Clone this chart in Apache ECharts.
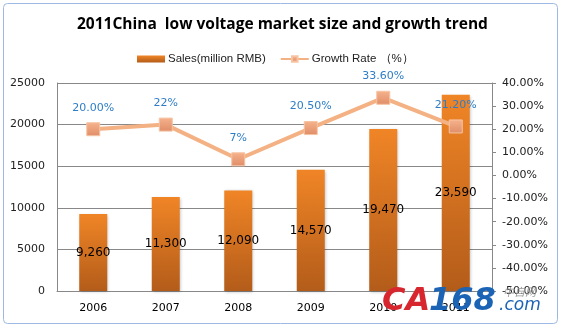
<!DOCTYPE html>
<html><head><meta charset="utf-8">
<script src="https://cdn.jsdelivr.net/npm/echarts@6/dist/echarts.min.js"></script>
<style>html,body{margin:0;padding:0;background:#fff}#c{width:562px;height:328px}</style>
</head><body><div id="c"></div>
<script>
const categories = ['2006','2007','2008','2009','2010','2011'];
const sales = [9260, 11300, 12090, 14570, 19470, 23590];
const growth = [20, 22, 7, 20.5, 33.6, 21.2];
const growthLabels = ['20.00%','22%','7%','20.50%','33.60%','21.20%'];
const salesTicks = {min:0, max:25000, interval:5000};
const growthTicks = {min:-50, max:40, interval:10};

const chart = echarts.init(document.getElementById('c'), null, {renderer:'canvas'});
chart.setOption({
  animation:false,
  backgroundColor:'#fff',
  title:{text:'2011China  low voltage market size and growth trend', left:72, top:12,
    textStyle:{fontFamily:'Open Sans', fontWeight:'bold', fontSize:15.5, color:'#000'}},
  legend:{top:48, left:132, itemGap:14, itemWidth:28, itemHeight:7,
    textStyle:{fontFamily:'Liberation Sans', fontSize:11.5, color:'#222', padding:[0,0,0,-2]},
    data:[{name:'Sales(million RMB)', icon:'rect'}, {name:'Growth Rate （%）'}]},
  grid:{left:57, right:70, top:83, bottom:37},
  xAxis:{type:'category', data:categories,
    axisLine:{lineStyle:{color:'#888'}}, axisTick:{show:false},
    axisLabel:{color:'#000', fontFamily:'DejaVu Sans', fontSize:11, margin:12}},
  yAxis:[
    {type:'value', min:salesTicks.min, max:salesTicks.max, interval:salesTicks.interval,
      axisLine:{show:true, lineStyle:{color:'#888'}}, axisTick:{show:false},
      splitLine:{lineStyle:{color:'#888'}},
      axisLabel:{color:'#222', fontFamily:'DejaVu Sans', fontSize:11, margin:12, formatter:v=>String(v)}},
    {type:'value', min:growthTicks.min, max:growthTicks.max, interval:growthTicks.interval,
      position:'right',
      axisLine:{show:true, lineStyle:{color:'#888'}}, axisTick:{show:true, length:4, lineStyle:{color:'#888'}},
      splitLine:{show:false},
      axisLabel:{color:'#222', fontFamily:'DejaVu Sans', fontSize:11, margin:10,
        formatter:v=>v.toFixed(2)+'%'}}
  ],
  series:[
    {name:'Sales(million RMB)', type:'bar', data:sales, barWidth:28, yAxisIndex:0,
      itemStyle:{color:new echarts.graphic.LinearGradient(0,0,0,1,[{offset:0,color:'#F08526'},{offset:1,color:'#B35C1A'}]),
        shadowColor:'rgba(0,0,0,0.25)', shadowBlur:3, shadowOffsetX:1, shadowOffsetY:1},
      label:{show:true, position:'inside', color:'#000', fontFamily:'DejaVu Sans', fontSize:12,
        formatter:p=>p.value.toLocaleString('en-US')}},
    {name:'Growth Rate （%）', type:'line', data:growth, yAxisIndex:1,
      symbol:'rect', symbolSize:13,
      lineStyle:{color:'#F4B183', width:4},
      itemStyle:{color:new echarts.graphic.LinearGradient(0,0,0,1,[{offset:0,color:'#F6B38C'},{offset:1,color:'#DF8D68'}]),
        borderColor:'#F6C3A3', borderWidth:1},
      label:{show:true, position:'top', distance:9, color:'#2E7DC6', fontFamily:'DejaVu Sans', fontSize:11,
        formatter:p=>growthLabels[p.dataIndex]}}
  ],
  graphic:[
    {type:'rect', shape:{x:3.5,y:3.5,width:554,height:320,r:4}, style:{fill:'none', stroke:'#9DB9E3', lineWidth:1}, z:-1},
    {type:'text', left:382, top:286, style:{text:'CA', fill:'#D8262E', font:'italic bold 32px "DejaVu Sans"'}, z:100},
    {type:'text', left:429, top:286, style:{text:'168', fill:'#1A63B5', font:'italic bold 32px "DejaVu Sans"'}, z:100},
    {type:'text', left:503, top:286, style:{text:'中自网', fill:'#999', font:'italic 11px "Noto Sans CJK SC"'}, z:100},
    {type:'text', left:499, top:297, style:{text:'.com', fill:'#1A63B5', font:'italic 17px "DejaVu Sans"'}, z:100}
  ]
});
</script></body></html>
